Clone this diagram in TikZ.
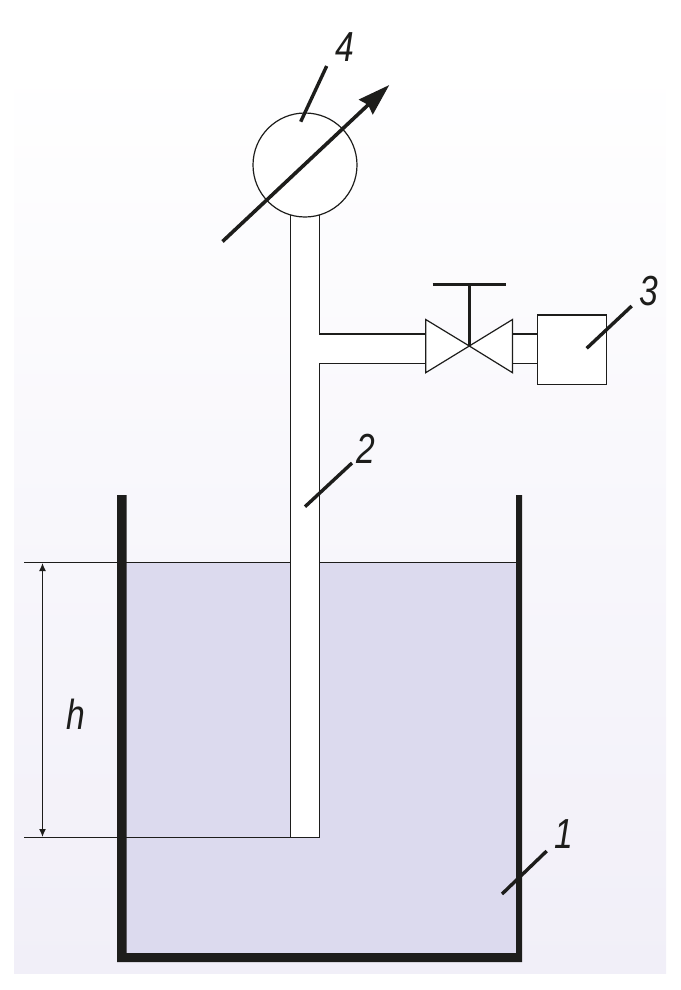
\documentclass[tikz,border=0pt]{standalone}
\usepackage{fontspec}
\usetikzlibrary{arrows.meta}
\setmainfont{Liberation Sans}
\newfontfamily\labelfont[FakeStretch=0.8]{Liberation Sans Italic}
\definecolor{ink}{HTML}{1D1D1B}
\definecolor{liquid}{HTML}{DCDAEE}
\definecolor{bgbottom}{HTML}{F1EFF8}
\tikzset{
  thin line/.style={draw=ink,line width=1.2pt},
  leader/.style={draw=ink,line width=3.4pt},
  tag/.style={inner sep=0pt,text=ink,font=\labelfont\fontsize{42}{42}\selectfont},
  unit/.style={thin line,fill=white,inner sep=0pt,outer sep=0pt}
}
\begin{document}
\begin{tikzpicture}[x=1pt,y=-1pt]
\useasboundingbox (0,0) rectangle (680,990);
% background
\shade[top color=white,bottom color=bgbottom] (14,60) rectangle (666,973);
% liquid
\fill[liquid] (126,562.5) rectangle (517,954);
% tube and side pipe interior
\fill[white] (290.5,200) -- (319.5,200) -- (319.5,334) -- (426,334) -- (426,363.5) -- (319.5,363.5) -- (319.5,837.5) -- (290.5,837.5) -- cycle;
\fill[white] (512,334) rectangle (538,363.5);
% named points
\coordinate (levelL) at (24,562.5);
\coordinate (levelTubeL) at (290.5,562.5);
\coordinate (levelTubeR) at (319.5,562.5);
\coordinate (levelWallR) at (516,562.5);
\coordinate (bottomL) at (24,837.5);
\coordinate (tubeBL) at (290.5,837.5);
\coordinate (tubeBR) at (319.5,837.5);
\coordinate (dimTop) at (42.5,562.5);
\coordinate (dimBot) at (42.5,837.5);
\coordinate (valveC) at (469.3,346);
\coordinate (valveTL) at (425.7,319.5);
\coordinate (valveBL) at (425.7,372.7);
\coordinate (valveTR) at (512.5,319.5);
\coordinate (valveBR) at (512.5,372.7);
\coordinate (stemTop) at (469.3,284.3);
\coordinate (handleL) at (432.7,284.3);
\coordinate (handleR) at (505.7,284.3);
\coordinate (teeUp) at (319.5,334);
\coordinate (teeLow) at (319.5,363.5);
\coordinate (pipeUp) at (425.7,334);
\coordinate (pipeLow) at (425.7,363.5);
\coordinate (linkUpL) at (512.5,334);
\coordinate (linkLowL) at (512.5,363.5);
\coordinate (linkUpR) at (537.7,334);
\coordinate (linkLowR) at (537.7,363.5);
\coordinate (tubeTL) at (290.5,205);
\coordinate (tubeTR) at (319.5,205);
% tube outline
\draw[thin line] (tubeTL) -- (tubeBL) -- (tubeBR) -- (teeLow) -- (pipeLow);
\draw[thin line] (tubeTR) -- (teeUp) -- (pipeUp);
\draw[thin line] (linkUpL) -- (linkUpR);
\draw[thin line] (linkLowL) -- (linkLowR);
% level lines
\draw[thin line] (levelL) -- (levelTubeL);
\draw[thin line] (levelTubeR) -- (levelWallR);
\draw[thin line] (bottomL) -- (tubeBL);
% dimension
\draw[thin line,{Latex[length=8pt,width=7pt]}-{Latex[length=8pt,width=7pt]},shorten >=0.5pt,shorten <=0.5pt] (dimTop) -- (dimBot);
% vessel
\fill[ink] (117,495) -- (126.5,495) -- (126.5,953) -- (516,953) -- (516,495) -- (522,495) -- (522,962) -- (117,962) -- cycle;
% valve
\draw[thin line,fill=white,line join=miter] (valveC) -- (valveTL) -- (valveBL) -- cycle;
\draw[thin line,fill=white,line join=miter] (valveC) -- (valveTR) -- (valveBR) -- cycle;
\draw[draw=ink,line width=2.4pt] (valveC) -- (stemTop);
\draw[draw=ink,line width=3pt] (handleL) -- (handleR);
% instrument and box
\node[unit,circle,minimum size=104pt] (gauge) at (305,165) {};
\node[unit,rectangle,minimum width=69pt,minimum height=69.3pt] (source) at (572.2,349.7) {};
% adjustable arrow
\coordinate (arrowS) at (222.5,241.5);
\coordinate (arrowE) at (389.3,85);
\draw[draw=ink,line width=3.6pt,-{Stealth[length=32pt,width=20pt,inset=3pt]}] (arrowS) -- (arrowE);
% leaders
\coordinate (l4a) at (326.7,66);  \coordinate (l4b) at (300.7,121.7);
\coordinate (l3a) at (631.7,306); \coordinate (l3b) at (586.7,348.3);
\coordinate (l2a) at (352,463);   \coordinate (l2b) at (305,506.7);
\coordinate (l1a) at (546.7,851); \coordinate (l1b) at (502,894);
\draw[leader] (l4a) -- (l4b);
\draw[leader] (l3a) -- (l3b);
\draw[leader] (l2a) -- (l2b);
\draw[leader] (l1a) -- (l1b);
% labels
\node[tag] (t4) at (345,47) {4};
\node[tag] (t3) at (649,291) {3};
\node[tag] (t2) at (366,449) {2};
\node[tag] (t1) at (564,834) {1};
\node[tag] (th) at (76,714) {h};
\end{tikzpicture}
\end{document}
